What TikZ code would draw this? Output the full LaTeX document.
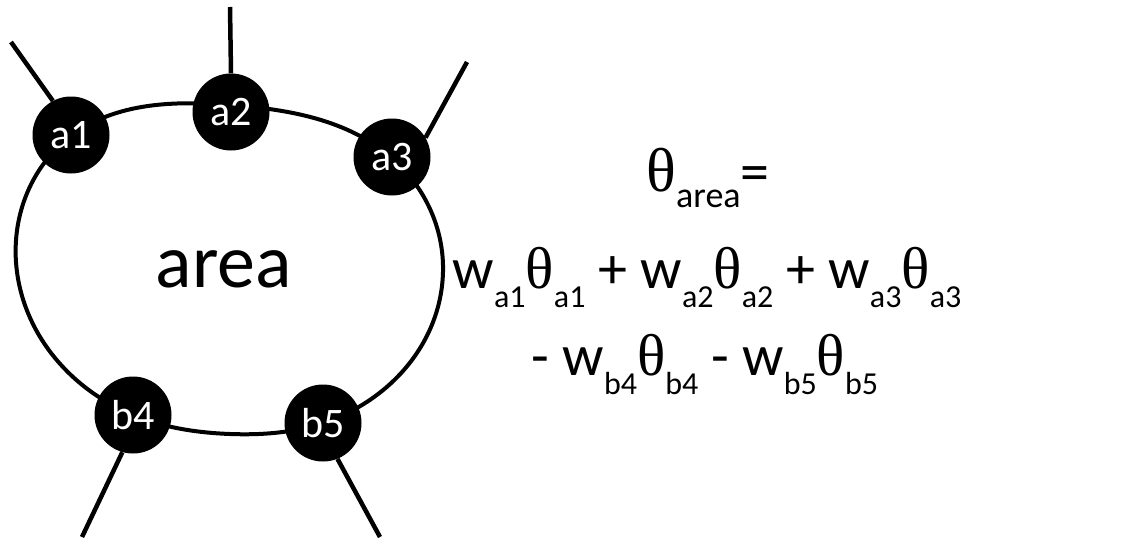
\documentclass[tikz,border=0pt]{standalone}
\usepackage{fontspec}
\usetikzlibrary{hobby}
\setmainfont{Carlito}
\newfontfamily\thf{Liberation Serif}
\newcommand\subx[1]{\raisebox{-19pt}{\fontsize{32}{32}\selectfont #1}}
\newcommand\thx{{\thf\fontsize{59}{59}\selectfont θ}}
\begin{document}
\begin{tikzpicture}[x=1pt,y=-1pt,
  port/.style={circle,fill=black,minimum size=77pt,inner sep=0pt,text=white,font=\fontsize{42}{42}\selectfont},
  wire/.style={line width=4.5pt},
  eq/.style={anchor=base,inner sep=0pt,font=\fontsize{58}{58}\selectfont}]
\useasboundingbox (0,0) rectangle (1140,538);
\draw[line width=4pt,use Hobby shortcut,closed=true] (17,272) .. (71,136) .. (231,105) .. (392,158) .. (443,272) .. (323,423) .. (230,434) .. (133,415);
\node[port] (a1) at (71,135) {a1};
\node[port] (a2) at (231,112) {a2};
\node[port] (a3) at (392,157) {a3};
\node[port] (b4) at (133,415) {b4};
\node[port] (b5) at (323,423) {b5};
\node[font=\fontsize{76}{76}\selectfont,inner sep=0pt,anchor=base] (area) at (224,287) {area};
\coordinate (ea1) at (11,42);
\coordinate (ea2) at (230,7);
\coordinate (ea3) at (467,62);
\coordinate (eb4) at (82,537);
\coordinate (eb5) at (380,537);
\draw[wire] (a1.118) -- (ea1);
\draw[wire] (a2.90) -- (ea2);
\draw[wire] (a3.30) -- (ea3);
\draw[wire] (b4.254) -- (eb4);
\draw[wire] (b5.292) -- (eb5);
\node[eq] (l1) at (708,191) {{\thf\fontsize{62}{62}\selectfont θ}\raisebox{-16pt}{\fontsize{36}{36}\selectfont area}=};
\node[eq] (l2) at (707,288) {w\subx{a1}\thx\subx{a1} + w\subx{a2}\thx\subx{a2} + w\subx{a3}\thx\subx{a3}};
\node[eq] (l3) at (705,375) {- w\subx{b4}\thx\subx{b4} - w\subx{b5}\thx\subx{b5}};
\end{tikzpicture}
\end{document}
